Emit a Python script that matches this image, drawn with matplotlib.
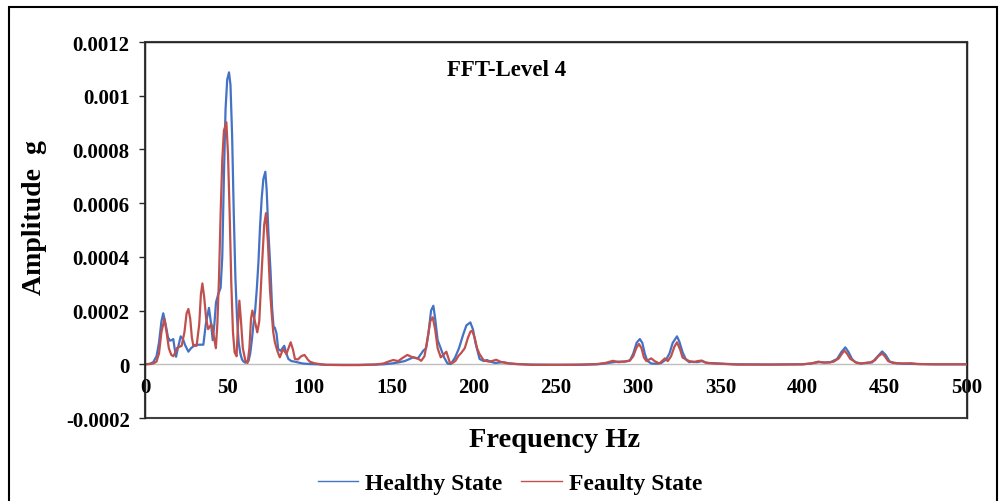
import numpy as np
import matplotlib
matplotlib.use("Agg")
import matplotlib.pyplot as plt
from matplotlib.patches import Rectangle

# ---- data (amplitudes in micro-g, scaled to g when plotted) ----
h_freq = [0, 3, 5, 7, 8.5, 10, 11.1, 12.5, 14, 15.2, 16.2, 17.2, 18, 18.9, 20, 21.7, 23, 24.5, 26.4, 28,
          30.4, 33, 35.5, 37, 38.9, 40, 41.2, 42.2, 43.2, 44.5, 46, 47, 48, 49, 50, 51.1, 52, 53, 54, 55,
          56, 57, 58, 59, 60, 61, 62, 63, 64, 65, 66, 67, 68, 69, 70, 71, 72, 73.2, 74, 75,
          76.4, 77.3, 78.2, 79, 80, 81, 82.5, 84.7, 86, 87.2, 89, 91, 93, 96, 100, 105, 110, 120, 130, 140,
          145, 150, 154, 158, 161, 163.2, 166, 169.3, 171, 172.5, 174, 175.4, 176.5, 178, 180, 182, 184, 186,
          188.6, 191, 193.5, 195.5, 197.9, 199.5, 201, 203.5, 206, 208, 210, 213, 218, 222, 226, 235, 250,
          265, 275, 280, 285, 288, 292, 295, 297, 299, 301, 302.5, 304, 305.5, 308, 311, 314, 317, 319, 321,
          323.6, 325, 327, 329, 331, 333, 336, 338.7, 342, 346.6, 352, 360, 380, 400, 405, 410, 414, 417,
          421, 423.5, 426, 428, 430, 432, 435.5, 439, 442.3, 445, 448.4, 450.5, 453, 457, 462, 470, 480, 500]
h_amp = [0, 2, 8, 30, 80, 160, 190, 150, 100, 88, 90, 94, 60, 28, 60, 104, 95, 70, 47, 60,
         72, 73, 73, 150, 210, 160, 90, 150, 231, 260, 285, 400, 700, 950, 1060, 1087, 1040, 850, 560, 320,
         170, 80, 40, 18, 10, 6, 8, 13, 40, 90, 150, 200, 280, 380, 516, 620, 690, 717, 650, 500,
         342, 210, 140, 136, 115, 57, 50, 69, 40, 20, 12, 10, 7, 3, 1, 0, -2, -2, -2, -1,
         0, 3, 7, 12, 20, 26, 22, 51, 60, 120, 200, 218, 170, 90, 57, 25, 3, 1,
         25, 60, 110, 145, 156, 130, 80, 20, 12, 16, 10, 5, 8, 3, 1, -1, -2,
         -2, 0, 3, 8, 10, 10, 15, 40, 80, 94, 80, 40, 13, 3, 2, 5, 18, 40, 80,
         104, 85, 45, 18, 8, 10, 8, 12, 5, 4, 2, 0, -1, 0, 3, 8, 7, 8,
         20, 45, 63, 45, 20, 8, 3, 5, 7, 25, 48, 35, 10, 4, 2, 1, 0, 0]

f_freq = [0, 3, 5, 7, 8.5, 10, 11.8, 13, 14.5, 16, 17.2, 18.5, 19.3, 21, 22.3, 24, 25.3, 26.4, 27.5, 28.5,
          29.4, 31.4, 33, 34, 34.9, 36, 37.2, 38.4, 40.4, 42, 43.1, 44, 45, 46, 47, 48, 49.5, 50.5, 51.5, 52.5,
          53.5, 54.5, 55.7, 56.5, 57.4, 58.4, 59.5, 61, 62.4, 63.5, 64.5, 65.3, 66.5, 68.3, 69.5, 71, 72.5, 73.6, 74.8, 76,
          77, 78, 79, 80.5, 82, 84, 86, 88.6, 90, 91.2, 93, 95, 97, 99, 100.2, 103, 106, 110, 120, 130,
          140, 145, 148, 151, 154, 157, 159.6, 162, 166.4, 168, 170, 172, 173.5, 175, 176.5, 178, 179.9, 181.5,
          183.3, 185.5, 187, 188.9, 190.5, 192.3, 194.5, 196.5, 198, 199, 200.5, 202, 203.5, 206, 209, 211, 213.7,
          216, 220, 226, 235, 250, 265, 275, 280, 284.7, 288, 291, 294.8, 297, 298.8, 300.4, 302, 303.5, 305,
          307.9, 310, 312.8, 314.5, 316.2, 318, 320, 322, 323.6, 325.5, 327, 328.6, 331, 334, 336, 338.7, 341,
          346, 350, 360, 380, 400, 405, 409.7, 413, 416.5, 419, 422, 424, 425.4, 427, 429, 431, 433, 435.5,
          439, 441, 444, 446, 448.4, 450, 452, 455, 460, 466, 470, 480, 500]
f_amp = [0, 1, 3, 10, 40, 120, 169, 125, 60, 35, 30, 45, 60, 65, 69, 120, 190, 206, 170, 100,
         69, 69, 150, 260, 301, 250, 170, 131, 150, 100, 60, 150, 320, 560, 760, 870, 901, 780, 560, 300,
         120, 45, 30, 140, 237, 160, 60, 15, 5, 60, 170, 200, 170, 119, 160, 350, 520, 563, 450, 280,
         194, 120, 82, 50, 26, 57, 38, 82, 55, 20, 18, 30, 35, 18, 10, 4, 1, -2, -3, -3,
         -1, 3, 10, 16, 12, 25, 35, 28, 20, 13, 30, 100, 160, 175, 130, 60, 26, 35,
         47, 5, 5, 13, 30, 42, 60, 100, 122, 125, 100, 60, 38, 15, 10, 12, 17,
         10, 4, 1, -2, -2, -1, 1, 5, 13, 8, 10, 13, 30, 60, 76, 60, 25, 12,
         22, 12, 3, 12, 22, 12, 30, 65, 82, 55, 25, 20, 12, 8, 12, 14, 6,
         3, 2, -1, -1, 0, 3, 10, 6, 7, 10, 22, 40, 51, 40, 20, 13, 5, 3,
         6, 7, 15, 30, 40, 30, 12, 5, 3, 4, 1, 0, 0]

series_labels = ["Healthy State", "Feaulty State"]
x_ticks = [0, 50, 100, 150, 200, 250, 300, 350, 400, 450, 500]
y_ticks = [-0.0002, 0, 0.0002, 0.0004, 0.0006, 0.0008, 0.001, 0.0012]
y_ticklabels = ["-0.0002", "0", "0.0002", "0.0004", "0.0006", "0.0008", "0.001", "0.0012"]

SERIF = "Liberation Serif"
blue = "#4472C4"
red = "#C0504D"

fig = plt.figure(figsize=(10, 5.02), dpi=100)
ax = fig.add_axes([0.145, 0.1653, 0.822, 0.749])

# frame (set spine position first: it resets ticks)
ax.spines["bottom"].set_position(("data", 0))
ax.spines["bottom"].set_color("#BFBFBF")
ax.spines["bottom"].set_linewidth(1.0)
ax.spines["bottom"].set_zorder(1)
for s in ["top", "right", "left"]:
    ax.spines[s].set_color("#262626")
    ax.spines[s].set_linewidth(1.0)
ax.patch.set_edgecolor("#404040")
ax.patch.set_linewidth(1.5)

ax.plot(h_freq, np.array(h_amp) * 1e-6, color=blue, lw=1.6, label=series_labels[0])
ax.plot(f_freq, np.array(f_amp) * 1e-6, color=red, lw=1.6, label=series_labels[1])

ax.set_xlim(0, 500)
ax.set_ylim(-0.0002, 0.0012)
ax.set_xticks(x_ticks)
ax.set_xticklabels([str(v) for v in x_ticks], fontfamily=SERIF, fontweight="bold", fontsize=15)
ax.set_yticks(y_ticks)
ax.set_yticklabels(y_ticklabels, fontfamily=SERIF, fontweight="bold", fontsize=15)

ax.tick_params(axis="x", length=0, pad=9)
ax.tick_params(axis="y", length=4, width=1, direction="out", pad=7, color="#262626")

ax.text(0.4404, 0.928, "FFT-Level 4", transform=ax.transAxes, ha="center", va="center",
        fontfamily=SERIF, fontweight="bold", fontsize=16.5)

fig.text(0.555, 1 - 441 / 502, "Frequency Hz", ha="center", va="center",
         fontfamily=SERIF, fontweight="bold", fontsize=20.5)
fig.text(0.035, 1 - 218 / 502, "Amplitude  g", ha="center", va="center", rotation=90,
         fontfamily=SERIF, fontweight="bold", fontsize=20)

leg = fig.legend(loc="center", bbox_to_anchor=(0.51, 1 - 484 / 502), ncol=2, frameon=False,
                 prop={"family": SERIF, "weight": "bold", "size": 17},
                 handlelength=1.7, handletextpad=0.3, columnspacing=0.8)
for line in leg.get_lines():
    line.set_linewidth(1.0)

# figure border
fig.patches.append(Rectangle((0.009, -0.1), 0.988, 1.1 - 8 / 502, transform=fig.transFigure,
                             fill=False, edgecolor="black", linewidth=1.5))

fig.savefig("out.png", dpi=100)
